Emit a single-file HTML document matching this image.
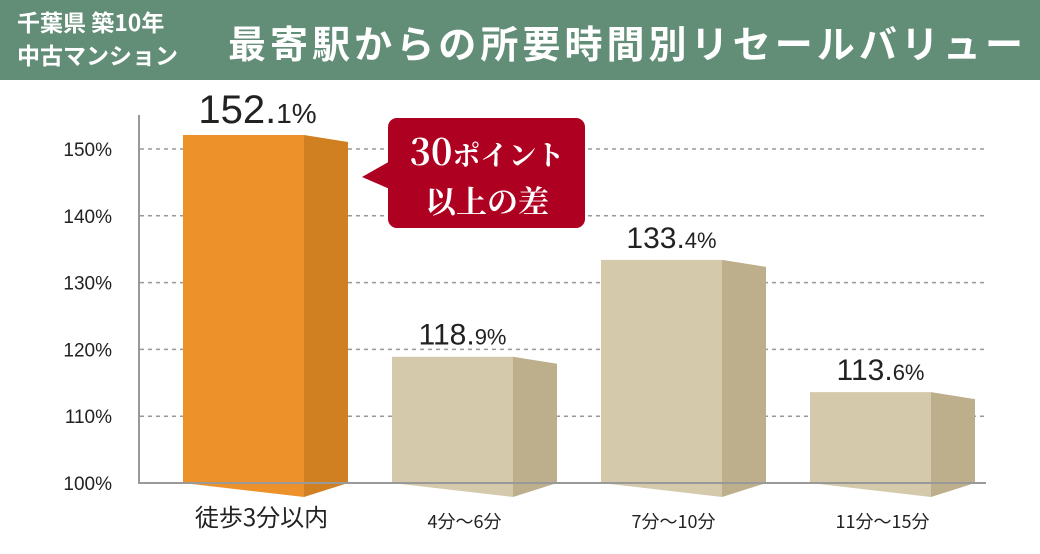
<!DOCTYPE html>
<html><head><meta charset="utf-8"><style>
body{margin:0;width:1040px;height:549px;overflow:hidden;background:#fff;font-family:"Liberation Sans","Noto Sans CJK JP",sans-serif}
</style></head><body>
<svg width="1040" height="549" xmlns="http://www.w3.org/2000/svg">
<rect x="0" y="0" width="1040" height="80" fill="#628d76"/>
<text x="17" y="31" font-size="23" font-weight="bold" fill="#fff" font-family="Noto Sans CJK JP,sans-serif">千葉県 築10年</text>
<text x="17" y="64" font-size="23" font-weight="bold" fill="#fff" font-family="Noto Sans CJK JP,sans-serif">中古マンション</text>
<text x="228" y="58" font-size="38" font-weight="bold" fill="#fff" font-family="Noto Sans CJK JP,sans-serif" textLength="795">最寄駅からの所要時間別リセールバリュー</text>
<g id="grid"></g>
<g id="bars"></g>
<line x1="139" y1="115" x2="139" y2="483" stroke="#999" stroke-width="2"/>
<line x1="138" y1="483" x2="986" y2="483" stroke="#999" stroke-width="2"/>
<g>
<rect x="388" y="118" width="197" height="110" rx="9" fill="#ae0020"/>
<polygon points="392,160 362,177 392,190" fill="#ae0020"/>
<text x="487" y="165" text-anchor="middle" font-size="28" font-weight="bold" fill="#fff" font-family="Noto Serif CJK SC,serif"><tspan font-size="36">30</tspan>ポイント</text>
<text x="487" y="213" text-anchor="middle" font-size="31" font-weight="bold" fill="#fff" font-family="Noto Serif CJK SC,serif">以上の差</text>
</g>
</svg>
<script>
const categories=["徒歩3分以内","4分～6分","7分～10分","11分～15分"];
const values=[152.1,118.9,133.4,113.6];
const ticks=[100,110,120,130,140,150];
const svgNS="http://www.w3.org/2000/svg";
const svg=document.querySelector("svg");
const grid=document.getElementById("grid"),barsG=document.getElementById("bars");
function y(v){return 483-(v-100)*6.68;}
function mk(t,a,p){const e=document.createElementNS(svgNS,t);for(const k in a)e.setAttribute(k,a[k]);(p||svg).appendChild(e);return e;}
ticks.forEach(t=>{
  if(t>100){const l=mk("line",{x1:140,x2:986,y1:y(t),y2:y(t),stroke:"#999","stroke-width":1.5,"stroke-dasharray":"4,4"},grid);
  
  }
  const tx=mk("text",{x:112,y:y(t)+7,"text-anchor":"end","font-size":19,fill:"#222"},grid);
  tx.textContent=t+"%";
  
  
});
values.forEach((v,i)=>{
  const x0=183+i*209,w=121,d=44,top=y(v);
  const hi=i===0;
  const g=mk("g",{},barsG);
  
  
  mk("polygon",{points:`${x0},${top} ${x0+w},${top} ${x0+w},497 ${x0},483`,fill:hi?"#ed922a":"#d4c9aa"},g);
  mk("polygon",{points:`${x0+w},${top} ${x0+w+d},${top+7} ${x0+w+d},483 ${x0+w},497`,fill:hi?"#d08020":"#bdae8c"},g);
  const lb=mk("text",{x:x0+w/2+(hi?14:10),y:top-12,"text-anchor":"middle",fill:"#222","font-size":hi?40:30},barsG);
  const s=v.toFixed(1).split(".");
  lb.innerHTML=s[0]+"."+`<tspan font-size="${hi?28:22}">${s[1]}%</tspan>`;
  
  
  const c=mk("text",{x:x0+w/2+(hi?18:12),y:hi?526:528,"text-anchor":"middle",fill:"#222","font-size":hi?24:18,"font-family":"Noto Sans CJK JP,sans-serif"},barsG);
  c.textContent=categories[i];
  
  
});
</script>
</body></html>
